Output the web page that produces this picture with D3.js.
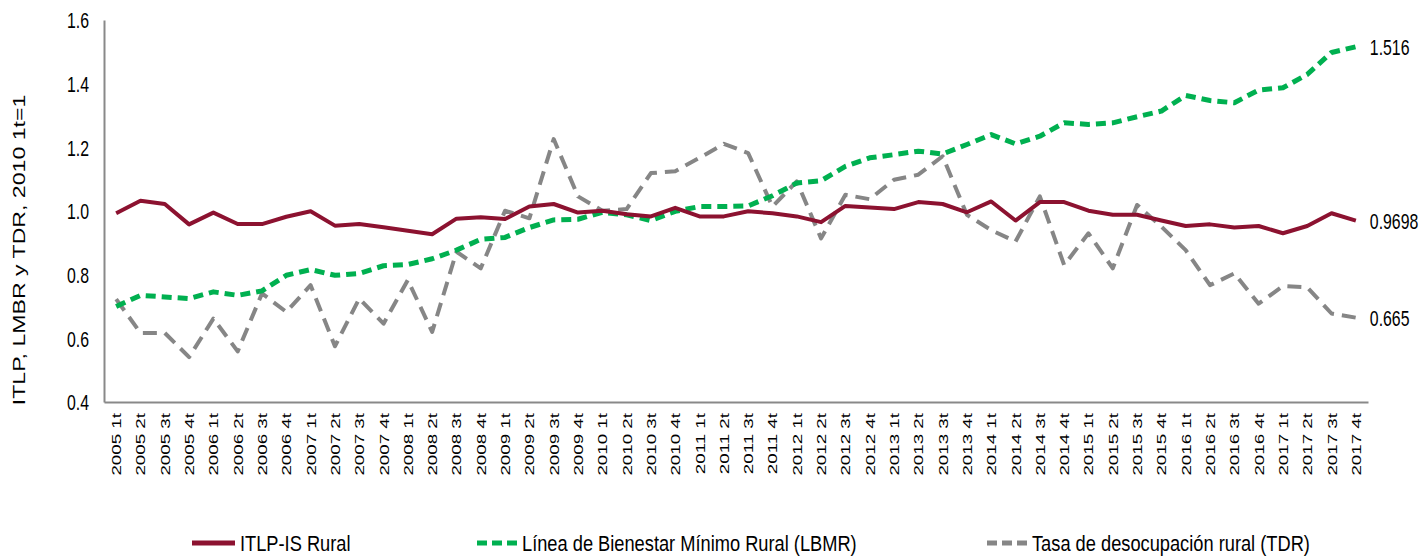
<!DOCTYPE html>
<html>
<head>
<meta charset="utf-8">
<script src="https://cdn.jsdelivr.net/npm/d3@7"></script>
<style>
  body { margin: 0; background: #fff; }
  svg { display: block; font-family: "Liberation Sans", Arial, sans-serif; }
</style>
</head>
<body>
<svg id="chart" width="1421" height="556"></svg>
<script>
(function() {

  // ----------
  var years = ['2005', '2006', '2007', '2008', '2009', '2010', '2011', '2012', '2013', '2014', '2015', '2016', '2017'];
  var quarters = ['1t', '2t', '3t', '4t'];
  var categories = [];
  years.forEach(function(y) {
    quarters.forEach(function(q) { categories.push(y + ' ' + q); });
  });

  var itlp = [0.993, 1.032, 1.022, 0.958, 0.995, 0.959, 0.959, 0.982, 0.999, 0.954, 0.959, 0.949, 0.938,
    0.927, 0.976, 0.980, 0.975, 1.014, 1.022, 0.995, 1.001, 0.990, 0.983, 1.010, 0.983, 0.983,
    0.999, 0.993, 0.983, 0.965, 1.016, 1.011, 1.006, 1.028, 1.022, 0.996, 1.030, 0.970, 1.028,
    1.028, 1.001, 0.988, 0.988, 0.970, 0.953, 0.958, 0.948, 0.953, 0.930, 0.953, 0.993, 0.9698];

  var lbmr = [0.700, 0.735, 0.730, 0.725, 0.746, 0.735, 0.749, 0.798, 0.816, 0.798, 0.804, 0.828, 0.832,
    0.850, 0.877, 0.911, 0.917, 0.948, 0.972, 0.974, 0.996, 0.988, 0.970, 0.999, 1.014, 1.014,
    1.016, 1.048, 1.088, 1.095, 1.140, 1.167, 1.177, 1.188, 1.179, 1.209, 1.240, 1.211, 1.235,
    1.277, 1.272, 1.277, 1.296, 1.314, 1.363, 1.347, 1.340, 1.380, 1.387, 1.429, 1.498, 1.516];

  var tdr = [0.723, 0.617, 0.617, 0.541, 0.662, 0.559, 0.741, 0.683, 0.767, 0.575, 0.725, 0.646, 0.783,
    0.620, 0.872, 0.820, 1.001, 0.977, 1.226, 1.046, 1.001, 1.006, 1.119, 1.125, 1.167, 1.211,
    1.182, 1.014, 1.093, 0.914, 1.051, 1.037, 1.098, 1.114, 1.172, 0.988, 0.940, 0.904, 1.046,
    0.830, 0.930, 0.820, 1.019, 0.951, 0.877, 0.767, 0.804, 0.709, 0.764, 0.760, 0.678, 0.665];

  var yTicks = [0.4, 0.6, 0.8, 1.0, 1.2, 1.4, 1.6];
  var endLabels = ['0.9698', '1.516', '0.665'];

  var series = [
    { name: 'ITLP-IS Rural', values: itlp, color: '#8c1230', width: 4, dash: null },
    { name: 'Línea de Bienestar Mínimo Rural (LBMR)', values: lbmr, color: '#00b050', width: 5, dash: '10,6' },
    { name: 'Tasa de desocupación rural (TDR)', values: tdr, color: '#868686', width: 4, dash: '14,8' }
  ];

  // the source picture is stretched vertically; rotated texts get lengthened to match
  function stretch(sel, ratio) {
    sel.each(function() {
      var len = this.getComputedTextLength();
      d3.select(this)
        .attr('textLength', len * ratio)
        .attr('lengthAdjust', 'spacingAndGlyphs');
    });
  }

  // ----------
  var svg = d3.select('#chart');
  var margin = { left: 104, right: 53, top: 20, bottom: 154 };
  var width = 1421 - margin.left - margin.right;
  var height = 556 - margin.top - margin.bottom;
  var narrow = 0.72;

  var x = d3.scalePoint().domain(categories).range([0, width]).padding(0.5);
  var y = d3.scaleLinear().domain([0.4, 1.6]).range([height, 0]);

  var g = svg.append('g').attr('transform', 'translate(' + margin.left + ',' + margin.top + ')');

  // axes
  var yAxis = g.append('g')
    .call(d3.axisLeft(y).tickValues(yTicks).tickSize(0).tickFormat(d3.format('.1f')));
  yAxis.select('.domain').attr('stroke', '#898989').attr('stroke-width', 2);
  yAxis.selectAll('text')
    .style('font-size', '22px')
    .style('font-family', '"Liberation Sans", Arial, sans-serif')
    .attr('fill', '#000')
    .attr('x', -15 / narrow)
    .attr('dy', '0.36em')
    .attr('transform', 'scale(' + narrow + ',1)');

  var xAxis = g.append('g')
    .attr('transform', 'translate(0,' + height + ')')
    .call(d3.axisBottom(x).tickSize(0).tickSizeOuter(0));
  xAxis.select('.domain').attr('stroke', '#898989').attr('stroke-width', 2);
  xAxis.selectAll('text')
    .style('font-family', '"Liberation Sans", Arial, sans-serif')
    .style('font-size', '12.5px')
    .attr('fill', '#000')
    .attr('transform', 'rotate(-90)')
    .attr('x', -11)
    .attr('y', 0)
    .attr('dy', '0.36em')
    .attr('text-anchor', 'end')
    .call(stretch, 1.5);

  // y axis title
  svg.append('text')
    .attr('transform', 'translate(25,250) rotate(-90)')
    .attr('text-anchor', 'middle')
    .style('font-size', '16.5px')
    .attr('fill', '#000')
    .text('ITLP, LMBR y TDR, 2010 1t=1')
    .call(stretch, 1.4);

  // lines
  var line = d3.line()
    .x(function(d, i) { return x(categories[i]); })
    .y(function(d) { return y(d); });

  [series[2], series[1], series[0]].forEach(function(s) {
    g.append('path')
      .datum(s.values)
      .attr('fill', 'none')
      .attr('stroke', s.color)
      .attr('stroke-width', s.width)
      .attr('stroke-dasharray', s.dash)
      .attr('stroke-linejoin', 'round')
      .attr('d', line);
  });

  // end labels
  series.forEach(function(s, i) {
    var last = s.values[s.values.length - 1];
    g.append('text')
      .attr('transform', 'translate(' + (x(categories[categories.length - 1]) + 14) + ',' + y(last) + ') scale(' + narrow + ',1)')
      .attr('dy', '0.36em')
      .style('font-size', '22px')
      .attr('fill', '#000')
      .text(endLabels[i]);
  });

  // legend
  var legendX = [192, 477, 987];
  var legend = svg.append('g');
  series.forEach(function(s, i) {
    var item = legend.append('g').attr('transform', 'translate(' + legendX[i] + ',543)');
    item.append('line')
      .attr('x1', 0).attr('x2', s.dash ? 40 : 43)
      .attr('stroke', s.color)
      .attr('stroke-width', 5)
      .attr('stroke-dasharray', s.dash ? '10,5' : null);
    item.append('text')
      .attr('transform', 'translate(' + (s.dash ? 45 : 48) + ',0) scale(0.83,1)')
      .attr('dy', '0.36em')
      .style('font-size', '22px')
      .attr('fill', '#000')
      .text(s.name);
  });

})();
</script>
</body>
</html>
